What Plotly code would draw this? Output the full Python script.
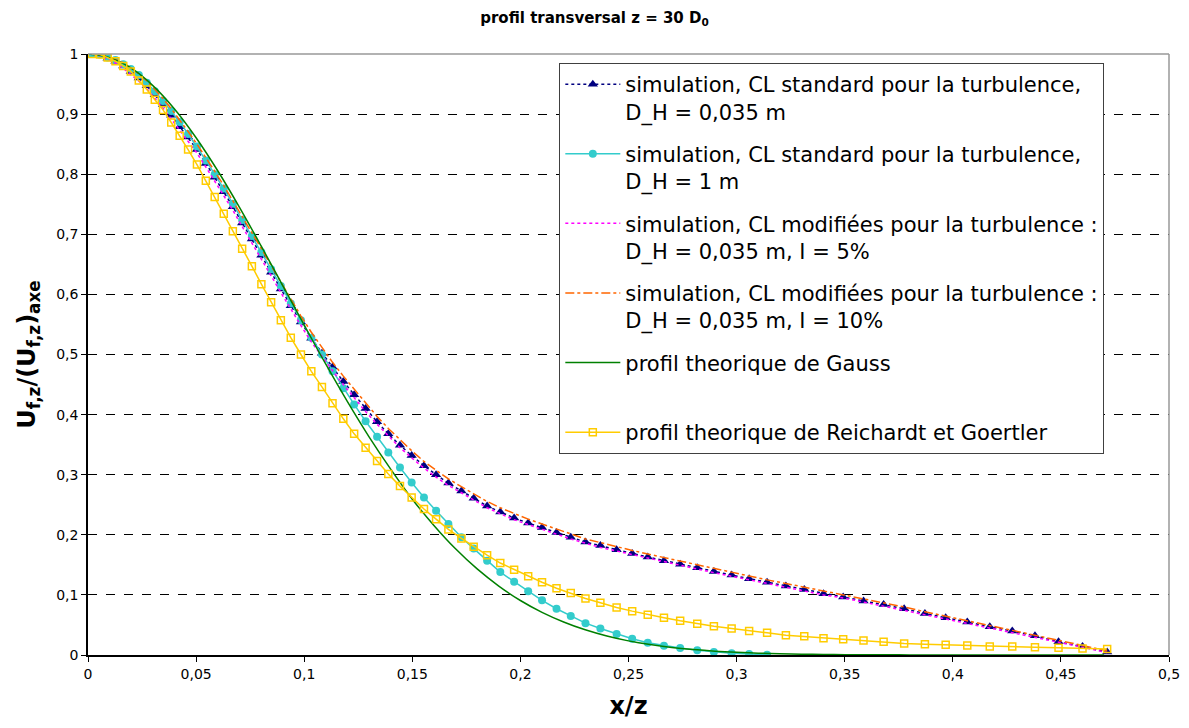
import plotly.graph_objects as go

# common mesh (x/z) shared by simulation series and Reichardt-Goertler profile
x_mesh = [0.0018, 0.0056, 0.0091, 0.0127, 0.0163, 0.0198, 0.0235, 0.0272, 0.0309, 0.0347,
          0.0385, 0.0424, 0.0463, 0.0504, 0.0545, 0.0586, 0.0628, 0.0670, 0.0713, 0.0758,
          0.0802, 0.0847, 0.0892, 0.0938, 0.0985, 0.1033, 0.1082, 0.1131, 0.1181, 0.1231,
          0.1284, 0.1337, 0.1389, 0.1443, 0.1497, 0.1554, 0.1610, 0.1667, 0.1727, 0.1784,
          0.1846, 0.1907, 0.1971, 0.2036, 0.2100, 0.2167, 0.2233, 0.2301, 0.2370, 0.2445,
          0.2517, 0.2589, 0.2664, 0.2739, 0.2818, 0.2895, 0.2977, 0.3058, 0.3141, 0.3228,
          0.3313, 0.3402, 0.3493, 0.3587, 0.3680, 0.3775, 0.3871, 0.3967, 0.4067, 0.4171,
          0.4275, 0.4380, 0.4489, 0.4600, 0.4714]

y_std_035 = [1.000, 0.998, 0.993, 0.988, 0.980, 0.971, 0.960, 0.947, 0.932, 0.916,
             0.898, 0.879, 0.862, 0.841, 0.818, 0.795, 0.771, 0.746, 0.719, 0.692,
             0.665, 0.637, 0.609, 0.581, 0.554, 0.527, 0.502, 0.479, 0.455, 0.433,
             0.410, 0.388, 0.368, 0.349, 0.332, 0.315, 0.300, 0.286, 0.273, 0.261,
             0.248, 0.238, 0.228, 0.2195, 0.212, 0.204, 0.196, 0.188, 0.182, 0.175,
             0.169, 0.163, 0.157, 0.151, 0.145, 0.139, 0.133, 0.127, 0.121, 0.115,
             0.109, 0.102, 0.0965, 0.090, 0.084, 0.077, 0.069, 0.062, 0.055, 0.047,
             0.040, 0.032, 0.022, 0.014, 0.005]

y_std_1 = [1.000, 0.999, 0.994, 0.990, 0.983, 0.975, 0.965, 0.952, 0.938, 0.922,
           0.905, 0.887, 0.867, 0.846, 0.823, 0.800, 0.776, 0.751, 0.724, 0.697,
           0.670, 0.642, 0.614, 0.585, 0.557, 0.528, 0.500, 0.472, 0.444, 0.417,
           0.389, 0.363, 0.337, 0.312, 0.287, 0.262, 0.240, 0.218, 0.196, 0.177,
           0.157, 0.138, 0.122, 0.106, 0.091, 0.077, 0.065, 0.053, 0.044, 0.035,
           0.027, 0.0205, 0.0155, 0.0117, 0.0078, 0.005, 0.003, 0.0017, 0.0005]

y_mod_5 = [1.000, 0.997, 0.991, 0.985, 0.976, 0.966, 0.955, 0.942, 0.927, 0.910,
           0.892, 0.873, 0.856, 0.835, 0.812, 0.789, 0.765, 0.740, 0.713, 0.686,
           0.659, 0.631, 0.603, 0.575, 0.548, 0.521, 0.496, 0.473, 0.450, 0.428,
           0.405, 0.384, 0.364, 0.345, 0.328, 0.311, 0.296, 0.282, 0.270, 0.258,
           0.245, 0.235, 0.225, 0.217, 0.209, 0.201, 0.193, 0.186, 0.179, 0.173,
           0.167, 0.161, 0.155, 0.149, 0.143, 0.137, 0.131, 0.125, 0.119, 0.113,
           0.107, 0.100, 0.095, 0.088, 0.082, 0.075, 0.067, 0.060, 0.053, 0.045,
           0.038, 0.030, 0.021, 0.013, 0.004]

y_mod_10 = [1.000, 0.999, 0.995, 0.991, 0.985, 0.977, 0.967, 0.955, 0.941, 0.926,
            0.909, 0.891, 0.871, 0.850, 0.828, 0.805, 0.781, 0.756, 0.730, 0.703,
            0.676, 0.648, 0.620, 0.592, 0.564, 0.537, 0.511, 0.487, 0.464, 0.442,
            0.419, 0.397, 0.377, 0.358, 0.340, 0.322, 0.307, 0.293, 0.280, 0.268,
            0.2555, 0.245, 0.235, 0.226, 0.218, 0.210, 0.201, 0.193, 0.187, 0.180,
            0.174, 0.168, 0.162, 0.156, 0.150, 0.144, 0.138, 0.131, 0.125, 0.119,
            0.113, 0.106, 0.100, 0.093, 0.087, 0.080, 0.072, 0.065, 0.057, 0.049,
            0.041, 0.033, 0.024, 0.016, 0.007]

y_reichardt = [1.000, 0.999, 0.994, 0.988, 0.980, 0.971, 0.956, 0.941, 0.924, 0.907,
               0.886, 0.864, 0.841, 0.816, 0.789, 0.762, 0.734, 0.705, 0.676, 0.647,
               0.617, 0.587, 0.557, 0.528, 0.500, 0.472, 0.446, 0.419, 0.393, 0.368,
               0.345, 0.323, 0.301, 0.281, 0.262, 0.243, 0.226, 0.209, 0.194, 0.180,
               0.166, 0.153, 0.142, 0.131, 0.121, 0.111, 0.103, 0.094, 0.087, 0.079,
               0.073, 0.067, 0.062, 0.057, 0.052, 0.048, 0.044, 0.040, 0.037, 0.033,
               0.031, 0.028, 0.026, 0.024, 0.022, 0.019, 0.018, 0.017, 0.016, 0.014,
               0.014, 0.013, 0.012, 0.011, 0.010]

x_gauss = [0.00, 0.01, 0.02, 0.03, 0.04, 0.05, 0.06, 0.07, 0.08, 0.09,
           0.10, 0.11, 0.12, 0.13, 0.14, 0.15, 0.16, 0.17, 0.18, 0.19,
           0.20, 0.21, 0.22, 0.23, 0.24, 0.25, 0.26, 0.27, 0.28, 0.29,
           0.30, 0.31, 0.32, 0.33, 0.34, 0.35, 0.36, 0.37, 0.38, 0.39,
           0.40, 0.41, 0.42, 0.43, 0.44, 0.45, 0.46, 0.47]
y_gauss = [1.0, 0.9940, 0.9763, 0.9474, 0.9085, 0.8607, 0.8057, 0.7453, 0.6811, 0.6151,
           0.5488, 0.4838, 0.4215, 0.3630, 0.3092, 0.2592, 0.2156, 0.1767, 0.1432, 0.1147,
           0.0907, 0.0710, 0.0550, 0.0419, 0.0316, 0.0235, 0.0173, 0.0126, 0.0091, 0.0064,
           0.0045, 0.0031, 0.0021, 0.0014, 0.0010, 0.0006, 0.0004, 0.0003, 0.0002, 0.0001,
           0.0, 0.0, 0.0, 0.0, 0.0, 0.0, 0.0, 0.0]

x_ticks = [0, 0.05, 0.1, 0.15, 0.2, 0.25, 0.3, 0.35, 0.4, 0.45, 0.5]
x_ticktext = ["0", "0,05", "0,1", "0,15", "0,2", "0,25", "0,3", "0,35", "0,4", "0,45", "0,5"]
y_ticks = [0, 0.1, 0.2, 0.3, 0.4, 0.5, 0.6, 0.7, 0.8, 0.9, 1]
y_ticktext = ["0", "0,1", "0,2", "0,3", "0,4", "0,5", "0,6", "0,7", "0,8", "0,9", "1"]

names = [
    "simulation, CL standard pour la turbulence,<br>D_H = 0,035 m",
    "simulation, CL standard pour la turbulence,<br>D_H = 1 m",
    "simulation, CL modifiées pour la turbulence :<br>D_H = 0,035 m, I = 5%",
    "simulation, CL modifiées pour la turbulence :<br>D_H = 0,035 m, I = 10%",
    "profil theorique de Gauss<br> ",
    "profil theorique de Reichardt et Goertler",
]

FONT = "DejaVu Sans"

fig = go.Figure()
fig.add_trace(go.Scatter(x=x_mesh, y=y_std_035, name=names[0], legendgroup="a",
                         mode="lines+markers",
                         line=dict(color="#000080", width=1.5, dash="dot"),
                         marker=dict(symbol="triangle-up", size=9, color="#000080")))
fig.add_trace(go.Scatter(x=x_mesh[:len(y_std_1)], y=y_std_1, name=names[1], legendgroup="b",
                         mode="lines+markers",
                         line=dict(color="#33CCCC", width=1.5),
                         marker=dict(symbol="circle", size=8, color="#33CCCC")))
fig.add_trace(go.Scatter(x=x_mesh, y=y_mod_5, name=names[2], legendgroup="c",
                         mode="lines",
                         line=dict(color="#FF00FF", width=1.5, dash="dot")))
fig.add_trace(go.Scatter(x=x_mesh, y=y_mod_10, name=names[3], legendgroup="d",
                         mode="lines",
                         line=dict(color="#FF6600", width=1.5, dash="dashdot")))
fig.add_trace(go.Scatter(x=x_gauss, y=y_gauss, name=names[4], legendgroup="e",
                         mode="lines", line_shape="spline",
                         line=dict(color="#008000", width=1.5)))
fig.add_trace(go.Scatter(x=x_mesh, y=y_reichardt, name=names[5], legendgroup="f",
                         mode="lines+markers",
                         line=dict(color="#FFCC00", width=1.5),
                         marker=dict(symbol="square-open", size=7, color="#FFCC00",
                                     line=dict(width=1.5, color="#FFCC00"))))

# page body has an 8px default margin: figure is sized to fit inside it
fig.update_layout(
    width=1173, height=712,
    paper_bgcolor="white", plot_bgcolor="white",
    font=dict(family=FONT, color="black"),
    margin=dict(l=80, r=12, t=46, b=65, autoexpand=False),
    title=dict(text="<b>profil transversal z = 30 D<sub>0</sub></b>",
               x=0.5, xanchor="center", y=0.986, yanchor="middle",
               font=dict(family=FONT, size=15, color="black")),
    showlegend=True,
    legend=dict(x=0.436, y=0.985, xanchor="left", yanchor="top",
                bgcolor="white", bordercolor="#404040", borderwidth=1,
                font=dict(family=FONT, size=21, color="black"),
                valign="top", tracegroupgap=12, itemwidth=55,
                traceorder="grouped"),
    xaxis=dict(range=[0, 0.5], tickmode="array", tickvals=x_ticks, ticktext=x_ticktext,
               showgrid=False, zeroline=False, automargin=True,
               showline=True, linecolor="black", linewidth=1.5,
               ticks="outside", ticklen=5, tickcolor="black", tickwidth=1,
               tickfont=dict(family=FONT, size=14, color="black"),
               title=dict(text="<b>x/z</b>", font=dict(family=FONT, size=24, color="black"),
                          standoff=26)),
    yaxis=dict(range=[0, 1], tickmode="array", tickvals=y_ticks, ticktext=y_ticktext,
               showgrid=True, gridcolor="black", griddash="dash", gridwidth=1,
               zeroline=False, automargin=False,
               showline=True, linecolor="black", linewidth=1.5,
               ticks="outside", ticklen=5, tickcolor="black", tickwidth=1,
               tickfont=dict(family=FONT, size=14, color="black"),
               title=dict(text="<b>U<sub>f,z</sub>/(U<sub>f,z</sub>)<sub>axe</sub></b>",
                          font=dict(family=FONT, size=24, color="black"),
                          standoff=14)),
    shapes=[
        dict(type="line", xref="paper", yref="paper", x0=0, x1=1, y0=1, y1=1,
             line=dict(color="#999999", width=1.5)),
        dict(type="line", xref="paper", yref="paper", x0=1, x1=1, y0=0, y1=1,
             line=dict(color="#999999", width=1.5)),
    ],
)

fig.write_html("out.html")
